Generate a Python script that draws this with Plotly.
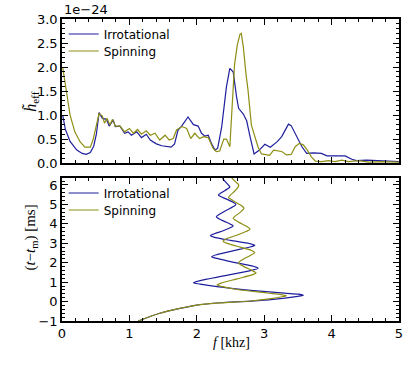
import plotly.graph_objects as go
from plotly.subplots import make_subplots

BLUE = "#1f1f9e"
OLIVE = "#8e8e14"

# top panel: effective strain spectrum, in units of 1e-24
irr_f = [0.01, 0.05, 0.12, 0.22, 0.30, 0.36, 0.42, 0.47, 0.51, 0.55, 0.60, 0.66, 0.70, 0.76, 0.79,
         0.86, 0.93, 0.98, 1.03, 1.11, 1.18, 1.25, 1.31, 1.40, 1.48, 1.55, 1.62, 1.67, 1.72, 1.78,
         1.87, 1.95, 2.02, 2.07, 2.12, 2.17, 2.22, 2.27, 2.31, 2.37, 2.44, 2.49, 2.54, 2.59, 2.62,
         2.69, 2.74, 2.79, 2.85, 2.92, 3.01, 3.09, 3.19, 3.26, 3.36, 3.40, 3.48, 3.56, 3.63, 3.73,
         3.85, 3.93, 4.08, 4.20, 4.30, 4.37, 4.52, 4.64, 4.77, 4.90, 5.00]
irr_h = [1.00, 0.70, 0.45, 0.27, 0.20, 0.18, 0.22, 0.35, 0.60, 1.05, 0.93, 0.91, 0.77, 0.90, 0.76,
         0.77, 0.62, 0.65, 0.58, 0.65, 0.53, 0.60, 0.48, 0.40, 0.36, 0.34, 0.33, 0.40, 0.68, 0.78,
         0.96, 0.80, 0.77, 0.62, 0.56, 0.58, 0.40, 0.27, 0.31, 0.76, 1.59, 1.97, 1.90, 1.38, 1.14,
         1.02, 0.88, 0.55, 0.19, 0.26, 0.39, 0.33, 0.44, 0.55, 0.81, 0.78, 0.55, 0.34, 0.20, 0.21,
         0.20, 0.15, 0.15, 0.15, 0.08, 0.05, 0.06, 0.05, 0.04, 0.03, 0.03]

spin_f = [0.01, 0.07, 0.12, 0.19, 0.27, 0.34, 0.42, 0.46, 0.51, 0.55, 0.60, 0.63, 0.67, 0.71, 0.75,
          0.79, 0.86, 0.93, 1.00, 1.06, 1.12, 1.18, 1.25, 1.31, 1.38, 1.45, 1.53, 1.59, 1.65, 1.70,
          1.78, 1.85, 1.91, 1.97, 2.04, 2.10, 2.17, 2.24, 2.29, 2.34, 2.40, 2.44, 2.49, 2.52, 2.56,
          2.60, 2.64, 2.66, 2.69, 2.73, 2.76, 2.81, 2.86, 2.91, 2.96, 3.02, 3.08, 3.14, 3.19, 3.26,
          3.33, 3.40, 3.46, 3.52, 3.58, 3.64, 3.70, 3.76, 3.85, 3.95, 4.05, 4.15, 4.25, 4.40, 4.55,
          4.75, 5.00]
spin_h = [2.00, 1.45, 1.00, 0.65, 0.44, 0.33, 0.33, 0.48, 0.79, 1.03, 0.98, 0.83, 0.93, 0.79, 0.91,
          0.77, 0.77, 0.65, 0.72, 0.62, 0.70, 0.60, 0.67, 0.58, 0.62, 0.48, 0.58, 0.48, 0.51, 0.69,
          0.76, 0.72, 0.51, 0.62, 0.51, 0.55, 0.53, 0.31, 0.24, 0.25, 0.50, 0.50, 0.34, 1.20, 2.05,
          2.45, 2.68, 2.70, 2.42, 1.85, 1.52, 0.79, 0.55, 0.33, 0.19, 0.17, 0.16, 0.27, 0.26, 0.24,
          0.17, 0.18, 0.34, 0.41, 0.38, 0.27, 0.13, 0.04, 0.03, 0.05, 0.03, 0.06, 0.03, 0.05, 0.02,
          0.03, 0.02]

# bottom panel: frequency track, f [kHz] vs t - t_m [ms]
irr_track_f = [1.13, 1.45, 1.75, 2.00, 2.35, 2.80, 3.31, 3.50, 3.58, 3.50, 3.30, 2.80, 2.30, 2.05,
               1.95, 2.05, 2.40, 2.78, 2.91, 2.80, 2.55, 2.30, 2.22, 2.30, 2.55, 2.80, 2.86, 2.78,
               2.50, 2.25, 2.20, 2.26, 2.40, 2.52, 2.54, 2.50, 2.40, 2.31, 2.29, 2.33, 2.44, 2.56,
               2.58, 2.55, 2.45, 2.34, 2.32, 2.35, 2.42, 2.48, 2.49, 2.47, 2.38]
irr_track_t = [-1.00, -0.60, -0.35, -0.18, -0.06, 0.02, 0.18, 0.27, 0.33, 0.38, 0.43, 0.58, 0.77,
               0.90, 0.97, 1.08, 1.32, 1.58, 1.71, 1.85, 2.02, 2.22, 2.31, 2.42, 2.62, 2.82, 2.90,
               2.99, 3.15, 3.32, 3.39, 3.49, 3.66, 3.84, 3.90, 3.98, 4.14, 4.30, 4.37, 4.48, 4.70,
               4.93, 5.00, 5.09, 5.26, 5.43, 5.49, 5.57, 5.72, 5.86, 5.91, 5.99, 6.34]

spin_track_f = [1.13, 1.45, 1.75, 2.00, 2.35, 2.80, 3.10, 3.28, 3.33, 3.25, 3.05, 2.60, 2.38, 2.30,
                2.36, 2.60, 2.84, 2.88, 2.83, 2.70, 2.63, 2.62, 2.65, 2.78, 2.85, 2.86, 2.82, 2.60,
                2.43, 2.39, 2.43, 2.62, 2.77, 2.79, 2.75, 2.64, 2.56, 2.54, 2.56, 2.64, 2.69, 2.70,
                2.67, 2.57, 2.49, 2.47, 2.50, 2.58, 2.62, 2.62, 2.58, 2.52]
spin_track_t = [-1.00, -0.60, -0.35, -0.18, -0.07, 0.03, 0.15, 0.26, 0.30, 0.36, 0.44, 0.62, 0.77,
                0.85, 0.95, 1.17, 1.40, 1.47, 1.58, 1.80, 1.94, 2.00, 2.10, 2.35, 2.48, 2.52, 2.62,
                2.85, 3.02, 3.10, 3.22, 3.45, 3.67, 3.73, 3.85, 4.05, 4.22, 4.29, 4.37, 4.58, 4.75,
                4.80, 4.92, 5.12, 5.30, 5.35, 5.48, 5.75, 5.95, 6.02, 6.15, 6.36]

fig = make_subplots(rows=2, cols=1, shared_xaxes=True)

# one legend per entry so the rows can sit exactly where the reference has them
fig.add_trace(go.Scatter(x=irr_f, y=irr_h, mode="lines", name="Irrotational",
                         line=dict(color=BLUE, width=1.2), legend="legend2"), row=1, col=1)
fig.add_trace(go.Scatter(x=spin_f, y=spin_h, mode="lines", name="Spinning",
                         line=dict(color=OLIVE, width=1.2), legend="legend3"), row=1, col=1)
fig.add_trace(go.Scatter(x=irr_track_f, y=irr_track_t, mode="lines", name="Irrotational",
                         line=dict(color=BLUE, width=1.2, shape="spline", smoothing=0.8),
                         legend="legend4"), row=2, col=1)
fig.add_trace(go.Scatter(x=spin_track_f, y=spin_track_t, mode="lines", name="Spinning",
                         line=dict(color=OLIVE, width=1.2, shape="spline", smoothing=0.8),
                         legend="legend5"), row=2, col=1)

axis_common = dict(
    showline=True, linecolor="black", linewidth=1.5, mirror="ticks",
    ticks="inside", ticklen=6, tickwidth=1, tickcolor="black",
    showgrid=False, zeroline=False, automargin=False,
    tickfont=dict(family="DejaVu Sans", size=13, color="black"),
)

fig.update_xaxes(range=[0, 5], dtick=1,
                 minor=dict(ticks="inside", dtick=0.2, ticklen=3, tickcolor="black"),
                 **axis_common)
fig.update_xaxes(showticklabels=False, row=1, col=1)
fig.update_yaxes(range=[0, 3], dtick=0.5, tickformat=".1f", domain=[0.523, 1.0],
                 minor=dict(ticks="inside", dtick=0.1, ticklen=3, tickcolor="black"),
                 row=1, col=1, **axis_common)
fig.update_yaxes(range=[-1, 6.36], dtick=1, domain=[0.0, 0.4735],
                 minor=dict(ticks="inside", dtick=0.2, ticklen=3, tickcolor="black"),
                 row=2, col=1, **axis_common)

legend_style = dict(x=0.005, xanchor="left", yanchor="middle", bgcolor="rgba(0,0,0,0)",
                    font=dict(family="DejaVu Sans", size=12, color="black"),
                    itemwidth=30)

fig.update_layout(
    width=411, height=374,
    margin=dict(l=62, r=12, t=19, b=53, autoexpand=False),
    paper_bgcolor="white", plot_bgcolor="white",
    legend2=dict(y=1 - (34 - 19) / 302, **legend_style),
    legend3=dict(y=1 - (51 - 19) / 302, **legend_style),
    legend4=dict(y=1 - (193 - 19) / 302, **legend_style),
    legend5=dict(y=1 - (210 - 19) / 302, **legend_style),
    annotations=[
        dict(text="1e\u221224", x=0, y=1, xref="paper", yref="paper", xanchor="left",
             yanchor="bottom", showarrow=False,
             font=dict(family="DejaVu Sans", size=13, color="black")),
        dict(text="<i>h\u0303</i><sub>eff</sub>", x=-0.125, y=0.765, xref="paper", yref="paper",
             textangle=-90, showarrow=False,
             font=dict(family="Liberation Serif", size=16, color="black")),
        dict(text="(<i>t</i>\u2212<i>t</i><sub>m</sub>) [ms]", x=-0.125, y=0.16, xref="paper",
             yref="paper", textangle=-90, showarrow=False,
             font=dict(family="Liberation Serif", size=15, color="black")),
        dict(text="<i>f</i> [khz]", x=0.504, y=-0.103, xref="paper", yref="paper",
             showarrow=False, font=dict(family="Liberation Serif", size=14, color="black")),
    ],
)

fig.write_html("out.html", config={"displayModeBar": False},
               post_script="document.body.style.margin='0';")
